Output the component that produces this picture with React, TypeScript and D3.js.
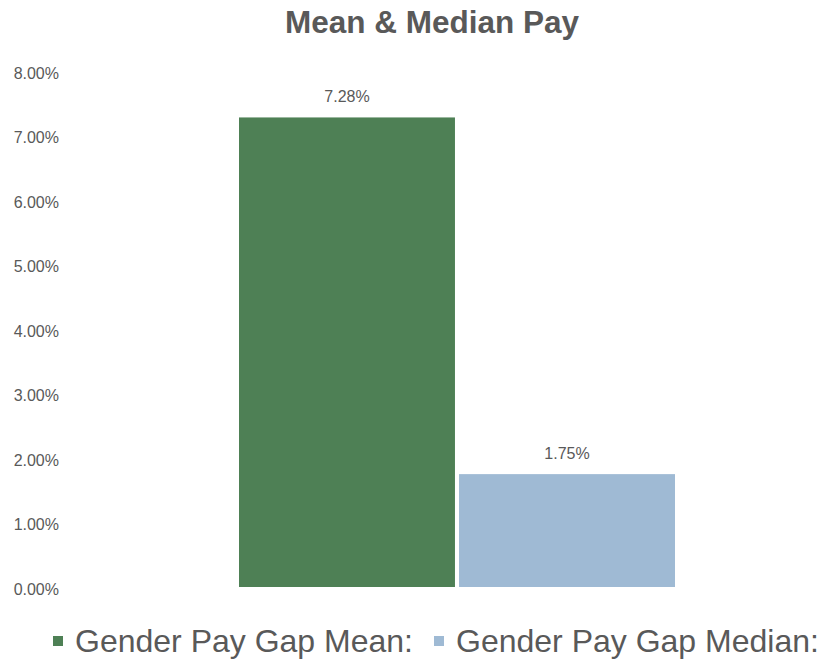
import React from "react";
import * as d3 from "d3";

const categories = ["Gender Pay Gap Mean:", "Gender Pay Gap Median:"];
const values = [7.28, 1.75];
const valueLabels = ["7.28%", "1.75%"];
const yTicks = [0, 1, 2, 3, 4, 5, 6, 7, 8];
const colors = ["#4E8055", "#9FBAD4"];
const title = "Mean & Median Pay";

const W = 823;
const H = 660;
const textColor = "#595959";
const font = "'Liberation Sans', Arial, sans-serif";

export default function App() {
  const y = d3.scaleLinear().domain([0, 8]).range([587, 71]);
  const x = d3.scaleBand<string>().domain(categories).range([239, 675]).paddingInner(0.0185).paddingOuter(0);
  const fmt = (v: number) => d3.format(".2f")(v) + "%";
  const legendX = [53, 434];
  return (
    <div style={{ position: "fixed", left: 0, top: 0 }}>
      <svg width={W} height={H} style={{ display: "block", background: "#fff" }}>
        <text x={432} y={33} textAnchor="middle" fontFamily={font} fontWeight="bold" fontSize={31.5} fill={textColor}>
          {title}
        </text>
        {yTicks.map((t) => (
          <text key={t} x={59} y={y(t) + 2} dy="0.35em" textAnchor="end" fontFamily={font} fontSize={16} fill={textColor}>
            {fmt(t)}
          </text>
        ))}
        {categories.map((c, i) => (
          <g key={c}>
            <rect x={x(c)} y={y(values[i])} width={x.bandwidth()} height={y(0) - y(values[i])} fill={colors[i]} />
            <text x={(x(c) as number) + x.bandwidth() / 2} y={y(values[i]) - 15} textAnchor="middle" fontFamily={font} fontSize={16} fill={textColor}>
              {valueLabels[i]}
            </text>
          </g>
        ))}
        {categories.map((c, i) => (
          <g key={"l" + c}>
            <rect x={legendX[i]} y={636} width={10} height={10} fill={colors[i]} />
            <text x={legendX[i] + 22} y={652} fontFamily={font} fontSize={32} fill={textColor}>
              {c}
            </text>
          </g>
        ))}
      </svg>
    </div>
  );
}
